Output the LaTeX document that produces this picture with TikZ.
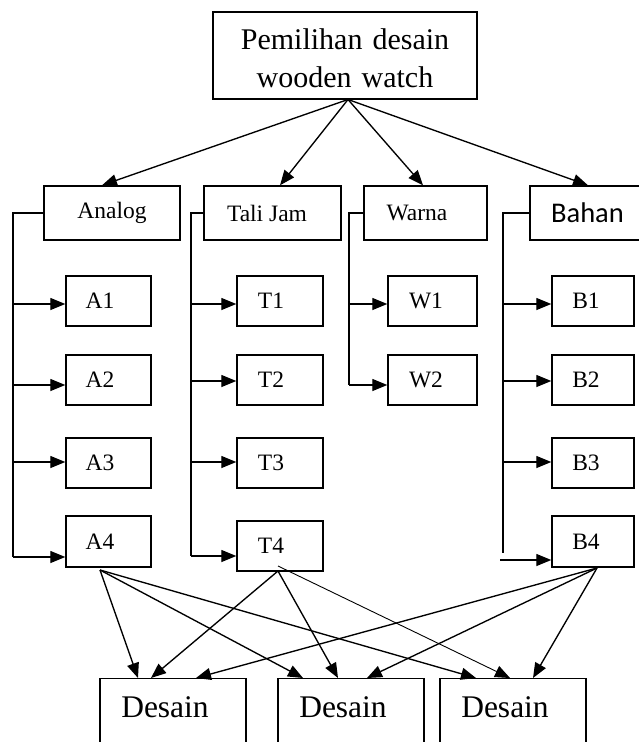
\documentclass[tikz,border=0pt]{standalone}
\usepackage{fontspec}
\setmainfont{Liberation Serif}
\newfontfamily\calibfont{Carlito}
\usetikzlibrary{arrows.meta}
\begin{document}
\begin{tikzpicture}[x=1pt,y=-1pt,
  box/.style={draw, line width=1.4pt, inner sep=0pt},
  small/.style={font=\fontsize{23.5}{28}\selectfont},
  desain/.style={box, anchor=north, minimum width=146pt, text height=39pt, text depth=80pt, font=\fontsize{31.5}{36}\selectfont},
  arr/.style={line width=1.35pt, -{Triangle[length=15pt,width=12pt]}},
  ln/.style={line width=1.35pt}]
\useasboundingbox (0,0) rectangle (639,742);
\clip (0,0) rectangle (639,742);

% top
\node[box, minimum width=264pt, minimum height=87pt, text width=264pt, align=center,
      text height=37pt, text depth=50pt, font=\fontsize{30}{38}\selectfont]
      (top) at (345,55.5) {Pemilihan desain\\wooden watch};

% headings
\node[box, small, minimum width=136pt, minimum height=54pt] (analog) at (112,213) {Analog};
\node[box, small, minimum width=137pt, minimum height=54pt] (tali) at (272.5,213) {Tali Jam\hspace*{11pt}};
\node[box, small, minimum width=123pt, minimum height=54pt] (warna) at (425.5,213) {Warna\hspace*{17pt}};
\node[box, minimum width=115pt, minimum height=54pt, font=\calibfont\fontsize{28.5}{34}\selectfont] (bahan) at (587.5,213) {Bahan};

% children A
\node[box, small, minimum width=85pt, minimum height=50pt] (A1) at (108.5,301) {A1\hspace*{17pt}};
\node[box, small, minimum width=85pt, minimum height=50pt] (A2) at (108.5,380) {A2\hspace*{17pt}};
\node[box, small, minimum width=85pt, minimum height=50pt] (A3) at (108.5,463) {A3\hspace*{17pt}};
\node[box, small, minimum width=85pt, minimum height=51pt] (A4) at (108.5,541.5) {A4\hspace*{17pt}};
% children T
\node[box, small, minimum width=86pt, minimum height=50pt] (T1) at (280,301) {T1\hspace*{18pt}};
\node[box, small, minimum width=86pt, minimum height=50pt] (T2) at (280,380) {T2\hspace*{18pt}};
\node[box, small, minimum width=86pt, minimum height=50pt] (T3) at (280,463) {T3\hspace*{18pt}};
\node[box, small, minimum width=86pt, minimum height=50pt] (T4) at (280,546) {T4\hspace*{18pt}};
% children W
\node[box, small, minimum width=89pt, minimum height=50pt] (W1) at (432.5,301) {W1\hspace*{13pt}};
\node[box, small, minimum width=89pt, minimum height=50pt] (W2) at (432.5,380) {W2\hspace*{13pt}};
% children B
\node[box, small, minimum width=82pt, minimum height=50pt] (B1) at (593,301) {B1\hspace*{14pt}};
\node[box, small, minimum width=82pt, minimum height=50pt] (B2) at (593,380) {B2\hspace*{14pt}};
\node[box, small, minimum width=82pt, minimum height=50pt] (B3) at (593,463) {B3\hspace*{14pt}};
\node[box, small, minimum width=82pt, minimum height=51pt] (B4) at (593,541.5) {B4\hspace*{14pt}};

% bottom
\node[desain] (D1) at (173,678) {Desain\hspace*{16pt}};
\node[desain] (D2) at (351,678) {Desain\hspace*{16pt}};
\node[desain] (D3) at (513,678) {Desain\hspace*{16pt}};

% top arrows
\coordinate (apex) at (348,99.5);
\draw[arr] (apex) -- (analog.north -| 102,0);
\draw[arr] (apex) -- (tali.north -| 280,0);
\draw[arr] (apex) -- (warna.north -| 423,0);
\draw[arr] (apex) -- (bahan.north -| 588,0);

% spines
\coordinate (sa1) at (13,213);  \coordinate (sa2) at (13,557);
\coordinate (st1) at (191,213); \coordinate (st2) at (191,556);
\coordinate (sw1) at (349,213); \coordinate (sw2) at (349,385);
\coordinate (sb1) at (503,213); \coordinate (sb2) at (503,553);
\coordinate (sb3) at (500,560);

\draw[ln] (analog.west) -- (sa1) -- (sa2);
\draw[arr] (sa1 |- 0,304) -- (A1.west |- 0,304);
\draw[arr] (sa1 |- 0,385) -- (A2.west |- 0,385);
\draw[arr] (sa1 |- 0,462) -- (A3.west |- 0,462);
\draw[arr] (sa2) -- (A4.west |- sa2);

\draw[ln] (tali.west) -- (st1) -- (st2);
\draw[arr] (st1 |- 0,304) -- (T1.west |- 0,304);
\draw[arr] (st1 |- 0,381) -- (T2.west |- 0,381);
\draw[arr] (st1 |- 0,462) -- (T3.west |- 0,462);
\draw[arr] (st2) -- (T4.west |- st2);

\draw[ln] (warna.west) -- (sw1) -- (sw2);
\draw[arr] (sw1 |- 0,304) -- (W1.west |- 0,304);
\draw[arr] (sw2) -- (W2.west |- sw2);

\draw[ln] (bahan.west) -- (sb1) -- (sb2);
\draw[arr] (sb1 |- 0,304) -- (B1.west |- 0,304);
\draw[arr] (sb1 |- 0,381) -- (B2.west |- 0,381);
\draw[arr] (sb1 |- 0,462) -- (B3.west |- 0,462);
\draw[arr] (sb3) -- (B4.west |- sb3);

% cross arrows
\coordinate (a4s) at (100,570);
\coordinate (t4s) at (278,571);
\coordinate (t4t) at (278,566);
\coordinate (b4s) at (597,568);
\draw[arr] (a4s) -- (D1.north -| 138,0);
\draw[arr] (a4s) -- (D2.north -| 303,0);
\draw[arr] (a4s) -- (D3.north -| 476,0);
\draw[arr] (t4s) -- (D1.north -| 151,0);
\draw[arr] (t4s) -- (D2.north -| 338,0);
\draw[arr, line width=0.9pt] (t4t) -- (D3.north -| 510,0);
\draw[arr] (b4s) -- (D1.north -| 196,0);
\draw[arr] (b4s) -- (D2.north -| 367,0);
\draw[arr] (b4s) -- (D3.north -| 533,0);
\end{tikzpicture}
\end{document}
